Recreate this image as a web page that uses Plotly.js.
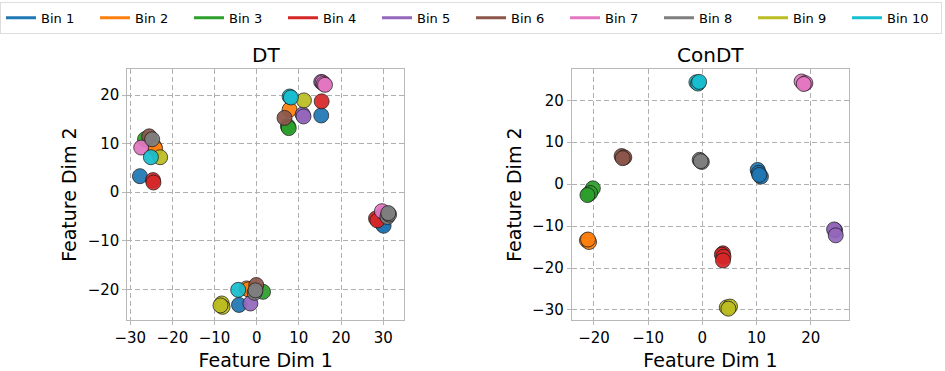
<!DOCTYPE html>
<html>
<head>
<meta charset="utf-8">
<script src="https://cdn.plot.ly/plotly-3.0.1.min.js"></script>
<style>html,body{margin:0;padding:0;background:#fff;}#chart{width:945px;height:371px;}</style>
</head>
<body>
<div id="chart"></div>
<script>
// Bin labels and colours
const binNames = ["Bin 1","Bin 2","Bin 3","Bin 4","Bin 5","Bin 6","Bin 7","Bin 8","Bin 9","Bin 10"];
const binColors = ["#1f77b4","#ff7f0e","#2ca02c","#d62728","#9467bd","#8c564b","#e377c2","#7f7f7f","#bcbd22","#17becf"];

// DT embedding (per bin)
const dtX = [
  [-27.7, 15.3, 29.9, 30.1, -4.2],
  [-24.3, -24.1, 7.8, -2.4, -2.0],
  [-26.5, 7.4, 7.6, 1.5],
  [-24.6, -24.5, 15.4, 28.3, 28.6],
  [10.9, 11.1, -1.5, 30.3, 15.3],
  [-25.5, 6.6, -0.1],
  [-27.4, 15.6, 15.9, 16.2, 29.7],
  [-24.8, -0.5, -0.3, 31.0, 31.4, 31.2],
  [-22.9, 11.2, -8.3, -8.1, -8.6],
  [-25.1, 7.8, 8.1, -4.4]
];
const dtY = [
  [3.3, 15.8, -6.6, -6.9, -23.2],
  [9.4, 9.0, 17.0, -19.8, -20.0],
  [10.9, 13.6, 13.2, -20.5],
  [2.5, 2.0, 18.7, -5.4, -5.8],
  [16.0, 15.6, -22.9, -4.3, 22.7],
  [11.5, 15.3, -19.1],
  [9.2, 22.6, 22.3, 22.1, -3.9],
  [10.9, -20.7, -20.2, -5.1, -4.6, -4.3],
  [7.2, 18.9, -22.9, -23.6, -23.3],
  [7.2, 19.7, 19.5, -20.1]
];

// ConDT embedding (per bin)
const conX = [
  [10.2, 10.4, 10.8, 10.5],
  [-21.3, -20.9, -21.1],
  [-20.2, -21.0, -20.7, -21.2],
  [3.8, 3.6, 3.9, 3.8],
  [24.5, 24.3, 24.6],
  [-14.9, -14.4, -14.7],
  [18.3, 19.0, 18.7],
  [-0.5, -0.1, -0.3],
  [4.5, 5.1, 4.8],
  [-1.1, -0.8, -0.6]
];
const conY = [
  [3.4, 2.7, 1.8, 2.2],
  [-13.4, -13.8, -13.2],
  [-1.0, -2.4, -2.1, -2.6],
  [-16.5, -16.8, -17.3, -18.2],
  [-11.0, -10.8, -12.2],
  [6.7, 6.4, 6.2],
  [24.5, 24.1, 23.9],
  [5.8, 5.3, 5.5],
  [-29.4, -29.2, -29.7],
  [24.3, 24.0, 24.4]
];

const dtXTicks = [-30, -20, -10, 0, 10, 20, 30];
const dtYTicks = [-20, -10, 0, 10, 20];
const conXTicks = [-20, -10, 0, 10, 20];
const conYTicks = [-30, -20, -10, 0, 10, 20];

const traces = [];
const markerStyle = c => ({size: 15, color: c, opacity: 0.93, line: {color: "#1a1a1a", width: 0.8}});
for (let i = 0; i < binNames.length; i++) {
  traces.push({x: dtX[i], y: dtY[i], xaxis: "x", yaxis: "y", mode: "markers", type: "scatter",
    marker: markerStyle(binColors[i]), showlegend: false, hoverinfo: "skip"});
}
for (let i = 0; i < binNames.length; i++) {
  traces.push({x: conX[i], y: conY[i], xaxis: "x2", yaxis: "y2", mode: "markers", type: "scatter",
    marker: markerStyle(binColors[i]), showlegend: false, hoverinfo: "skip"});
}
for (let i = 0; i < binNames.length; i++) {
  traces.push({x: [null], y: [null], xaxis: "x", yaxis: "y", mode: "lines", type: "scatter",
    name: binNames[i], line: {color: binColors[i], width: 3}, showlegend: true});
}

const font = {family: "DejaVu Sans, sans-serif", color: "#000"};
const axisBase = {
  showline: true, mirror: true, linecolor: "#b8b8b8", linewidth: 1,
  showgrid: true, gridcolor: "#b0b0b0", gridwidth: 1, griddash: "5px,3px",
  zeroline: false, ticks: "outside", ticklen: 4, tickcolor: "#b8b8b8",
  tickfont: {family: font.family, size: 15, color: "#000"}
};
const titleFont = {family: font.family, size: 19, color: "#000"};

const layout = {
  width: 945, height: 371,
  margin: {l: 0, r: 0, t: 0, b: 0},
  paper_bgcolor: "#fff", plot_bgcolor: "#fff",
  font: font,
  showlegend: true,
  legend: {orientation: "h", x: 0, xanchor: "left", y: 0.995, yanchor: "top",
    font: {family: font.family, size: 13, color: "#000"},
    bordercolor: "#dddddd", borderwidth: 1, bgcolor: "#fff",
    entrywidth: 49, entrywidthmode: "pixels", itemwidth: 30},
  xaxis: Object.assign({}, axisBase, {domain: [0.1347, 0.4278], range: [-30.7, 35.0], tickvals: dtXTicks,
    anchor: "y", title: {text: "Feature Dim 1", font: titleFont, standoff: 8}}),
  yaxis: Object.assign({}, axisBase, {domain: [0.1375, 0.8132], range: [-26.3, 25.3], tickvals: dtYTicks,
    anchor: "x", title: {text: "Feature Dim 2", font: titleFont, standoff: 5}}),
  xaxis2: Object.assign({}, axisBase, {domain: [0.605, 0.8987], range: [-24.1, 27.1], tickvals: conXTicks,
    anchor: "y2", title: {text: "Feature Dim 1", font: titleFont, standoff: 8}}),
  yaxis2: Object.assign({}, axisBase, {domain: [0.1375, 0.8132], range: [-32.4, 27.4], tickvals: conYTicks,
    anchor: "x2", title: {text: "Feature Dim 2", font: titleFont, standoff: 5}}),
  annotations: [
    {text: "DT", xref: "paper", yref: "paper", x: (0.1347 + 0.4278) / 2, y: 1 - 55 / 371,
      xanchor: "center", yanchor: "middle", showarrow: false, font: {family: font.family, size: 20, color: "#000"}},
    {text: "ConDT", xref: "paper", yref: "paper", x: (0.605 + 0.8987) / 2, y: 1 - 55 / 371,
      xanchor: "center", yanchor: "middle", showarrow: false, font: {family: font.family, size: 20, color: "#000"}}
  ]
};

Plotly.newPlot("chart", traces, layout, {displayModeBar: false, staticPlot: true});
</script>
</body>
</html>
